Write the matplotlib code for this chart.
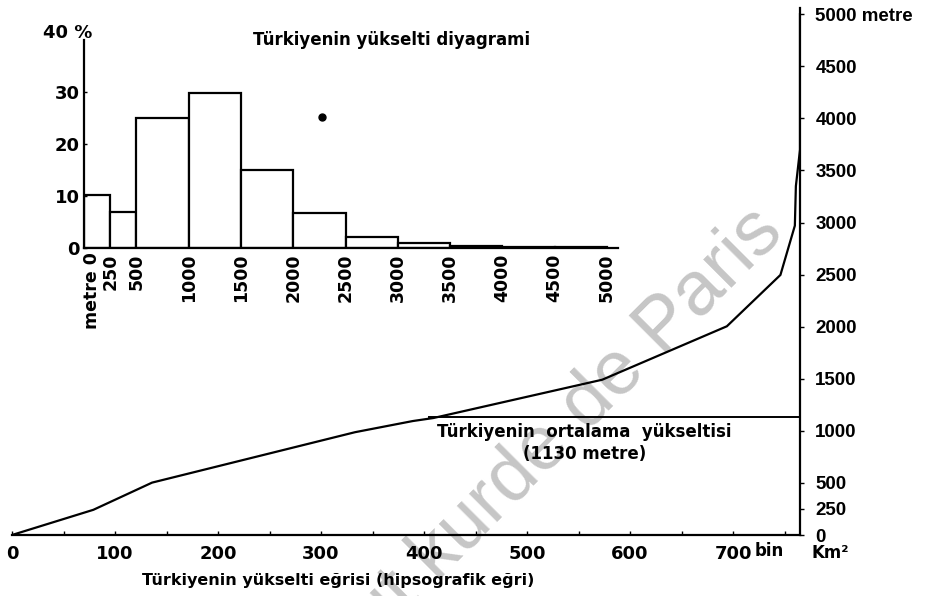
import numpy as np
import matplotlib.pyplot as plt

# hypsographic curve of Turkey (area in thousand km2, elevation in m)
area_bin = [0, 79, 136, 333, 389, 409, 573, 694, 746, 760, 761, 765, 765]
elev_m = [0, 242, 503, 987, 1094, 1123, 1491, 2004, 2497, 2970, 3350, 3700, 5000]

mean_elev = 1130
mean_from = 405

x_ticks = [0, 100, 200, 300, 400, 500, 600, 700]
x_labels = ['0', '100', '200', '300', '400', '500', '600', '700']
y_ticks = [0, 250, 500, 1000, 1500, 2000, 2500, 3000, 3500, 4000, 4500, 5000]
y_labels = ['0', '250', '500', '1000', '1500', '2000', '2500', '3000',
            '3500', '4000', '4500', '5000 metre']

# elevation histogram (share of area in %)
hist_edges = [0, 250, 500, 1000, 1500, 2000, 2500, 3000, 3500, 4000, 4500, 5000]
hist_pct = [10.2, 6.9, 25.0, 29.8, 15.0, 6.8, 2.1, 0.9, 0.4, 0.15, 0.1]
hist_ticks = [250, 500, 1000, 1500, 2000, 2500, 3000, 3500, 4000, 4500, 5000]
hist_labels = ['250', '500', '1000', '1500', '2000', '2500', '3000',
               '3500', '4000', '4500', '5000']
hist_zero_label = 'metre 0'
pct_ticks = [0, 10, 20, 30]
pct_labels = ['0', '10', '20', '30']

# ink speck on the scan
speck_x = [2275]
speck_y = [25.2]

W, H = 937, 596
fig = plt.figure(figsize=(W / 100, H / 100), dpi=100)
fig.patch.set_facecolor('white')

bold = dict(family='DejaVu Sans', weight='bold', color='black')

# watermark, anchored at the end of "Paris"
fig.text(772 / W, 1 - 220 / H, 'Institut kurde de Paris', rotation=45,
         fontsize=55, color='#c6c6c6', family='Liberation Sans',
         ha='right', va='center', rotation_mode='anchor', zorder=-1)

# main hypsographic curve
ax = fig.add_axes([12 / W, 1 - 535 / H, 788 / W, 527 / H])
ax.patch.set_alpha(0)
ax.set_xlim(0, 765)
ax.set_ylim(0, 5060)
for s in ['left', 'top']:
    ax.spines[s].set_visible(False)
for s in ['bottom', 'right']:
    ax.spines[s].set_linewidth(1.6)

ax.plot(area_bin, elev_m, color='black', lw=1.6, solid_joinstyle='miter')
ax.plot([mean_from, 765], [mean_elev, mean_elev], color='black', lw=1.4)

ax.set_xticks(x_ticks, x_labels)
ax.set_xticks(np.arange(0, 751, 50), minor=True)
ax.tick_params(axis='x', which='both', direction='in', length=3, width=1)
ax.tick_params(axis='x', which='major', pad=7)
for lab in ax.get_xticklabels():
    lab.set_fontsize(13)
    lab.set_fontweight('bold')

ax.yaxis.tick_right()
ax.set_yticks(y_ticks, y_labels)
ax.tick_params(axis='y', direction='out', length=3, width=1, pad=8)
for lab in ax.get_yticklabels():
    lab.set_fontsize(13.5)
    lab.set_fontweight('bold')
    lab.set_family('Liberation Sans')

ax.text(721, -70, 'bin', ha='left', va='top', fontsize=12, **bold)
ax.text(556, 987, 'Türkiyenin  ortalama  yükseltisi', ha='center',
        va='center', fontsize=12, **bold)
ax.text(556, 774, '(1130 metre)', ha='center', va='center', fontsize=12, **bold)

fig.text(812 / W, 1 - 553 / H, 'Km²', ha='left', va='center', fontsize=12, **bold)
fig.text(338 / W, 1 - 580 / H, 'Türkiyenin yükselti eğrisi (hipsografik eğri)',
         ha='center', va='center', fontsize=11.5, **bold)

# inset histogram
ax2 = fig.add_axes([84 / W, 1 - 248 / H, 534 / W, 208 / H])
ax2.patch.set_alpha(0)
ax2.set_xlim(0, 5105)
ax2.set_ylim(0, 40)
for s in ['right', 'top']:
    ax2.spines[s].set_visible(False)
for s in ['left', 'bottom']:
    ax2.spines[s].set_linewidth(1.6)

ax2.bar(hist_edges[:-1], hist_pct, width=np.diff(hist_edges), align='edge',
        facecolor='white', edgecolor='black', linewidth=1.6)
ax2.plot(speck_x, speck_y, 'o', color='black', ms=5)

ax2.set_yticks(pct_ticks, pct_labels)
ax2.tick_params(axis='y', direction='in', length=2, width=1, pad=3)
for lab in ax2.get_yticklabels():
    lab.set_fontsize(13)
    lab.set_fontweight('bold')

ax2.set_xticks(hist_ticks, hist_labels, rotation=90)
ax2.tick_params(axis='x', length=0, pad=4)
for lab in ax2.get_xticklabels():
    lab.set_fontsize(12.5)
    lab.set_fontweight('bold')
# the zero label sits a little to the right of the axis line
ax2.annotate(hist_zero_label, xy=(0, 0), xytext=(6, -3), textcoords='offset points',
             rotation=90, ha='center', va='top', fontsize=12.5, **bold)

fig.text(43 / W, 1 - 33 / H, '40 %', ha='left', va='center', fontsize=13, **bold)
fig.text(392 / W, 1 - 40 / H, 'Türkiyenin yükselti diyagrami', ha='center',
         va='center', fontsize=12, **bold)

fig.savefig('out.png', dpi=100)
